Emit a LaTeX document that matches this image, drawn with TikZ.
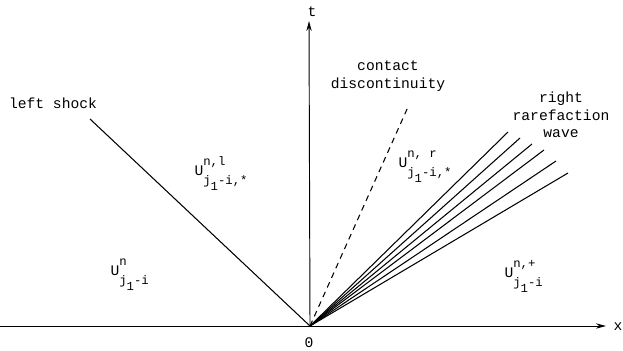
\documentclass[tikz,border=0pt]{standalone}
\usepackage{fontspec}
\setmonofont{Liberation Mono}
\usetikzlibrary{arrows.meta}
\tikzset{
  lbl/.style={font=\ttfamily\fontsize{12.5}{15}\selectfont, align=center, inner sep=0pt},
  axis/.style={line width=0.8pt, -{Stealth[length=3mm,width=1.6mm]}},
}
\newcommand{\scsz}{\fontsize{10.5}{12}\selectfont}
% state label: U with stacked indices, typed at almost full size
\newcommand{\usol}[2]{U\rlap{\raisebox{8.5pt}{\scsz #1}}%
  \raisebox{-8pt}{\scsz j\raisebox{-5pt}{1}-i#2}}

\begin{document}
\begin{tikzpicture}[x=0.03cm, y=-0.03cm, line width=0.9pt]
  \useasboundingbox (0,0) rectangle (623,350);
  % origin and free ends, in pixels of the plate
  \coordinate (O) at (310,326);
  \coordinate (xstart) at (0,326);
  \coordinate (xend) at (606,326);
  \coordinate (tend) at (309,21);
  \coordinate (shock) at (90,119);
  \coordinate (contact) at (408,107);
  \draw[axis] (xstart) -- (xend);
  \draw[axis] (O) -- (tend);
  \node[lbl] (xlab) at (618,327) {x};
  \node[lbl] (tlab) at (312,12) {t};
  \node[lbl] (zero) at (309,343) {0};
  % waves from the origin
  \draw (O) -- (shock);
  \draw[dash pattern=on 5pt off 4pt] (O) -- (contact);
  \foreach \px/\py [count=\k] in {508/132, 520/138, 532/144, 544/150, 556/161, 568/173} {
    \coordinate (fan\k) at (\px,\py);
    \draw (O) -- (fan\k);
  }
  \node[lbl] (shocklab) at (53,103) {left shock};
  \node[lbl] (contactlab) at (388,76) {contact\\discontinuity};
  \node[lbl] (fanlab) at (561,115) {right\\rarefaction\\wave};
  % states
  \node[lbl, anchor=base west] (uleft) at (110,275) {\usol{n}{}};
  \node[lbl, anchor=base west] (ustarl) at (194,175) {\usol{n,l}{,*}};
  \node[lbl, anchor=base west] (ustarr) at (398,167) {\usol{n, r}{,*}};
  \node[lbl, anchor=base west] (uright) at (504,277) {\usol{n,+}{}};
\end{tikzpicture}
\end{document}
